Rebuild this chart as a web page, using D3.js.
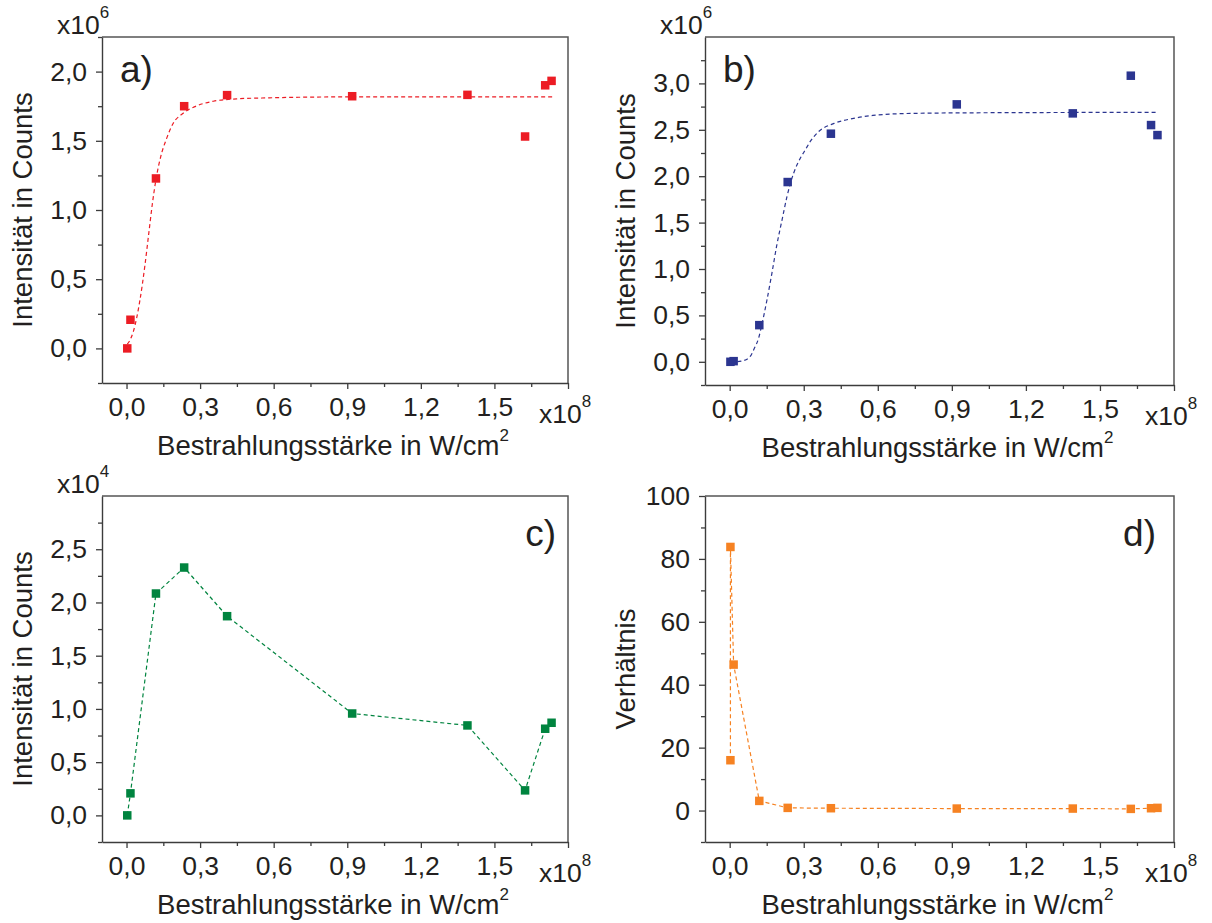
<!DOCTYPE html>
<html>
<head>
<meta charset="utf-8">
<script src="https://cdn.jsdelivr.net/npm/d3@7"></script>
<style>
  body { margin: 0; background: #fff; }
  svg { display: block; }
  text { font-family: "Liberation Sans", Arial, Helvetica, sans-serif; fill: #231f20; }
</style>
</head>
<body>
<svg id="fig" width="1212" height="923"></svg>
<script>
// Irradiance in units of 1e8 W/cm^2 (shared by all panels)
const irradiance = [0.003, 0.016, 0.12, 0.235, 0.41, 0.92, 1.39, 1.625, 1.707, 1.733];

// a) intensity, units of 1e6 counts
const intensityA = [0.0, 0.207, 1.228, 1.75, 1.83, 1.822, 1.832, 1.531, 1.901, 1.933];
// fitted curve for a)
const fitAx = [0.003, 0.011, 0.028, 0.055, 0.075, 0.09, 0.105, 0.12, 0.14, 0.162, 0.19, 0.229, 0.276, 0.354, 0.448, 0.573, 0.885, 1.736];
const fitAy = [0.03, 0.05, 0.123, 0.352, 0.6, 0.82, 1.04, 1.22, 1.39, 1.51, 1.625, 1.697, 1.745, 1.786, 1.803, 1.81, 1.817, 1.817];

// b) intensity, units of 1e6 counts
const intensityB = [0.0, 0.007, 0.395, 1.937, 2.458, 2.774, 2.677, 3.083, 2.551, 2.443];
const fitBx = [0.003, 0.049, 0.08, 0.1, 0.117, 0.13, 0.151, 0.171, 0.191, 0.212, 0.232, 0.259, 0.286, 0.306, 0.328, 0.36, 0.423, 0.502, 0.58, 0.738, 1.053, 1.733];
const fitBy = [-0.005, 0.009, 0.048, 0.145, 0.253, 0.397, 0.666, 0.954, 1.259, 1.528, 1.779, 2.031, 2.193, 2.282, 2.38, 2.48, 2.569, 2.623, 2.655, 2.677, 2.684, 2.688];

// c) intensity, units of 1e4 counts
const intensityC = [0.0, 0.207, 2.084, 2.328, 1.871, 0.957, 0.845, 0.235, 0.814, 0.87];

// d) ratio (one extra reading at the lowest irradiance)
const ratioX = [0.003, 0.003, 0.016, 0.12, 0.235, 0.41, 0.92, 1.39, 1.625, 1.707, 1.733];
const ratioD = [16.0, 83.8, 46.4, 3.07, 0.85, 0.74, 0.63, 0.63, 0.53, 0.74, 0.85];

// tick values
const xMajor = [0, 0.3, 0.6, 0.9, 1.2, 1.5, 1.8];
const xMinor = [0.15, 0.45, 0.75, 1.05, 1.35, 1.65];
const yMajorA = [0, 0.5, 1.0, 1.5, 2.0];
const yMinorA = [-0.25, 0.25, 0.75, 1.25, 1.75, 2.25];
const yMajorB = [0, 0.5, 1.0, 1.5, 2.0, 2.5, 3.0];
const yMinorB = [-0.25, 0.25, 0.75, 1.25, 1.75, 2.25, 2.75, 3.25];
const yMajorC = [0, 0.5, 1.0, 1.5, 2.0, 2.5];
const yMinorC = [-0.25, 0.25, 0.75, 1.25, 1.75, 2.25, 2.75];
const yMajorD = [0, 20, 40, 60, 80, 100];
const yMinorD = [-10, 10, 30, 50, 70, 90];

const comma1 = v => d3.format(".1f")(v).replace(".", ",");
const int0 = v => d3.format("d")(v);

const zip = (xs, ys) => xs.map((x, i) => ({ x, y: ys[i] }));

const panels = [
  { letter: "a)", box: [102, 37, 568, 383], yDom: [-0.25, 2.25], yMajor: yMajorA, yMinor: yMinorA, fmt: comma1,
    yExp: "6", yTitle: "Intensität in Counts", color: "#ec1c24", smooth: true,
    pts: zip(irradiance, intensityA), curve: zip(fitAx, fitAy), letterPos: [120, 82, "start"] },
  { letter: "b)", box: [705, 37, 1174, 385], yDom: [-0.25, 3.5], yMajor: yMajorB, yMinor: yMinorB, fmt: comma1,
    yExp: "6", yTitle: "Intensität in Counts", color: "#2b3590", smooth: true,
    pts: zip(irradiance, intensityB), curve: zip(fitBx, fitBy), letterPos: [723, 82, "start"] },
  { letter: "c)", box: [102, 496, 568, 842], yDom: [-0.25, 3.0], yMajor: yMajorC, yMinor: yMinorC, fmt: comma1,
    yExp: "4", yTitle: "Intensität in Counts", color: "#00843f", smooth: false,
    pts: zip(irradiance, intensityC), curve: zip(irradiance, intensityC), letterPos: [556, 546, "end"] },
  { letter: "d)", box: [705, 496, 1174, 842], yDom: [-10, 100], yMajor: yMajorD, yMinor: yMinorD, fmt: int0,
    yExp: null, yTitle: "Verhältnis", color: "#f68222", smooth: false,
    pts: zip(ratioX, ratioD), curve: zip(ratioX, ratioD), letterPos: [1156, 546, "end"] }
];

const svg = d3.select("#fig");
const AXIS = "#3c3c3c";

panels.forEach(p => {
  const [x0, y0, x1, y1] = p.box;
  const x = d3.scaleLinear().domain([-0.1, 1.8]).range([x0, x1]);
  const y = d3.scaleLinear().domain(p.yDom).range([y1, y0]);
  const g = svg.append("g");

  // frame: top and right edges
  g.append("path")
    .attr("d", `M${x0},${y0}H${x1}V${y1}`)
    .attr("fill", "none").attr("stroke", "#555").attr("stroke-width", 1.5);

  // bottom axis
  const xa = g.append("g").attr("transform", `translate(0,${y1})`)
    .call(d3.axisBottom(x).tickValues(xMajor).tickSize(6).tickSizeOuter(0).tickPadding(8)
      .tickFormat(v => v === 1.8 ? "" : comma1(v)));
  g.append("g").attr("transform", `translate(0,${y1})`)
    .call(d3.axisBottom(x).tickValues(xMinor).tickSize(4).tickSizeOuter(0).tickFormat(""))
    .select(".domain").remove();

  // left axis
  g.append("g").attr("transform", `translate(${x0},0)`)
    .call(d3.axisLeft(y).tickValues(p.yMajor).tickSize(6).tickSizeOuter(0).tickPadding(9).tickFormat(p.fmt));
  g.append("g").attr("transform", `translate(${x0},0)`)
    .call(d3.axisLeft(y).tickValues(p.yMinor).tickSize(4).tickSizeOuter(0).tickFormat(""))
    .select(".domain").remove();

  g.selectAll(".domain").attr("stroke", AXIS).attr("stroke-width", 1.4);
  g.selectAll(".tick line").attr("stroke", AXIS).attr("stroke-width", 1.3);
  g.selectAll(".tick text").attr("font-size", 26.5).attr("fill", "#231f20")
    .attr("font-family", '"Liberation Sans", Arial, sans-serif');
  xa.selectAll(".tick text").attr("dy", "0.71em");

  // exponent labels
  const expLabel = (tx, ty, anchor, exp) => {
    const t = g.append("text").attr("x", tx).attr("y", ty).attr("text-anchor", anchor).attr("font-size", 26.5);
    t.append("tspan").text("x10");
    t.append("tspan").attr("dy", -16).attr("font-size", 17).text(exp);
  };
  if (p.yExp) expLabel(x0 - 45, y0 - 3, "start", p.yExp);
  expLabel(x1 - 29, y1 + 40, "start", "8");

  // axis titles
  const xt = g.append("text").attr("x", (x0 + x1) / 2 - 2).attr("y", y1 + 72)
    .attr("text-anchor", "middle").attr("font-size", 27.5);
  xt.append("tspan").text("Bestrahlungsstärke in W/cm");
  xt.append("tspan").attr("dy", -14).attr("font-size", 17).text("2");

  g.append("text")
    .attr("transform", `translate(${x0 - 70},${(y0 + y1) / 2}) rotate(-90)`)
    .attr("text-anchor", "middle").attr("font-size", 27.5).text(p.yTitle);

  // panel letter
  g.append("text").attr("x", p.letterPos[0]).attr("y", p.letterPos[1])
    .attr("text-anchor", p.letterPos[2]).attr("font-size", 37).text(p.letter);

  // dashed fitted / connecting line
  const line = d3.line().x(d => x(d.x)).y(d => y(d.y))
    .curve(p.smooth ? d3.curveMonotoneX : d3.curveLinear);
  g.append("path").datum(p.curve).attr("d", line)
    .attr("fill", "none").attr("stroke", p.color).attr("stroke-width", 1.2)
    .attr("stroke-dasharray", "4,3");

  // square markers
  const s = 8.5;
  g.selectAll("rect.pt").data(p.pts).join("rect").attr("class", "pt")
    .attr("x", d => x(d.x) - s / 2).attr("y", d => y(d.y) - s / 2)
    .attr("width", s).attr("height", s).attr("fill", p.color);
});
</script>
</body>
</html>
